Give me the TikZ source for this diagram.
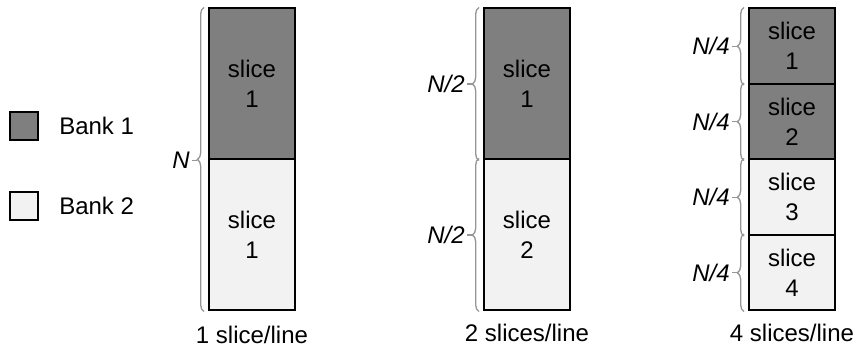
\documentclass[tikz,border=0pt]{standalone}
\usepackage{fontspec}
\setmainfont{Liberation Sans}
\usetikzlibrary{decorations.pathreplacing,positioning}

\definecolor{bankone}{RGB}{127,127,127}
\definecolor{banktwo}{RGB}{242,242,242}
\definecolor{bracegray}{RGB}{150,150,150}

\begin{document}
\begin{tikzpicture}[
  x=0.75pt, y=-0.75pt,
  every node/.style={inner sep=0pt, font=\fontsize{18}{22.5}\selectfont},
  cell/.style={draw, line width=1.5pt, minimum width=64.5pt, align=center},
  half/.style={cell, minimum height=113.25pt},
  quarter/.style={cell, minimum height=56.625pt},
  key/.style={draw, line width=1.5pt, minimum size=21pt},
  span/.style={draw=bracegray, line width=1pt, decorate,
    decoration={brace, amplitude=5pt}},
  tick/.style={draw=bracegray, line width=1pt, shorten >=1.5pt},
  size/.style={anchor=east, font=\fontsize{18}{22.5}\selectfont\itshape}]

  \useasboundingbox (0,0) rectangle (857,352);

  % ---- legend -------------------------------------------------------------
  \node[key, fill=bankone] (key1) at (24,126) {};
  \node[key, fill=banktwo] (key2) at (24,206) {};
  \node[right=15pt of key1] (key1txt) {Bank 1};
  \node[right=15pt of key2] (key2txt) {Bank 2};

  % ---- 1 slice per line ---------------------------------------------------
  \node[half, fill=bankone] (A1) at (252,84)  {slice\\1};
  \node[half, fill=banktwo] (A2) at (252,235) {slice\\1};

  % ---- 2 slices per line --------------------------------------------------
  \node[half, fill=bankone] (B1) at (527,84)  {slice\\1};
  \node[half, fill=banktwo] (B2) at (527,235) {slice\\2};

  % ---- 4 slices per line --------------------------------------------------
  \node[quarter, fill=bankone] (C1) at (792,46.25)  {slice\\1};
  \node[quarter, fill=bankone] (C2) at (792,121.75) {slice\\2};
  \node[quarter, fill=banktwo] (C3) at (792,197.25) {slice\\3};
  \node[quarter, fill=banktwo] (C4) at (792,272.75) {slice\\4};

  % ---- braces -------------------------------------------------------------
  \draw[span] ([xshift=-3pt]A2.south west) -- ([xshift=-3pt]A1.north west);
  \draw[span] ([xshift=-3pt]B1.south west) -- ([xshift=-3pt]B1.north west);
  \draw[span] ([xshift=-3pt]B2.south west) -- ([xshift=-3pt]B2.north west);
  \draw[span] ([xshift=-3pt]C1.south west) -- ([xshift=-3pt]C1.north west);
  \draw[span] ([xshift=-3pt]C2.south west) -- ([xshift=-3pt]C2.north west);
  \draw[span] ([xshift=-3pt]C3.south west) -- ([xshift=-3pt]C3.north west);
  \draw[span] ([xshift=-3pt]C4.south west) -- ([xshift=-3pt]C4.north west);

  % ---- sizes --------------------------------------------------------------
  \node[size] (nA)  at ([xshift=-13.5pt]A1.south west) {N};
  \node[size] (nB1) at ([xshift=-13.5pt]B1.west) {N/2};
  \node[size] (nB2) at ([xshift=-13.5pt]B2.west) {N/2};
  \node[size] (nC1) at ([xshift=-13.5pt]C1.west) {N/4};
  \node[size] (nC2) at ([xshift=-13.5pt]C2.west) {N/4};
  \node[size] (nC3) at ([xshift=-13.5pt]C3.west) {N/4};
  \node[size] (nC4) at ([xshift=-13.5pt]C4.west) {N/4};

  % short ticks from each brace tip to its size
  \draw[tick] ([xshift=-8pt]A1.south west) -- (nA.east);
  \draw[tick] ([xshift=-8pt]B1.west) -- (nB1.east);
  \draw[tick] ([xshift=-8pt]B2.west) -- (nB2.east);
  \draw[tick] ([xshift=-8pt]C1.west) -- (nC1.east);
  \draw[tick] ([xshift=-8pt]C2.west) -- (nC2.east);
  \draw[tick] ([xshift=-8pt]C3.west) -- (nC3.east);
  \draw[tick] ([xshift=-8pt]C4.west) -- (nC4.east);

  % ---- captions -----------------------------------------------------------
  \node (capA) at (252,335) {1 slice/line};
  \node (capB) at (527,333) {2 slices/line};
  \node (capC) at (792,333) {4 slices/line};
\end{tikzpicture}
\end{document}
